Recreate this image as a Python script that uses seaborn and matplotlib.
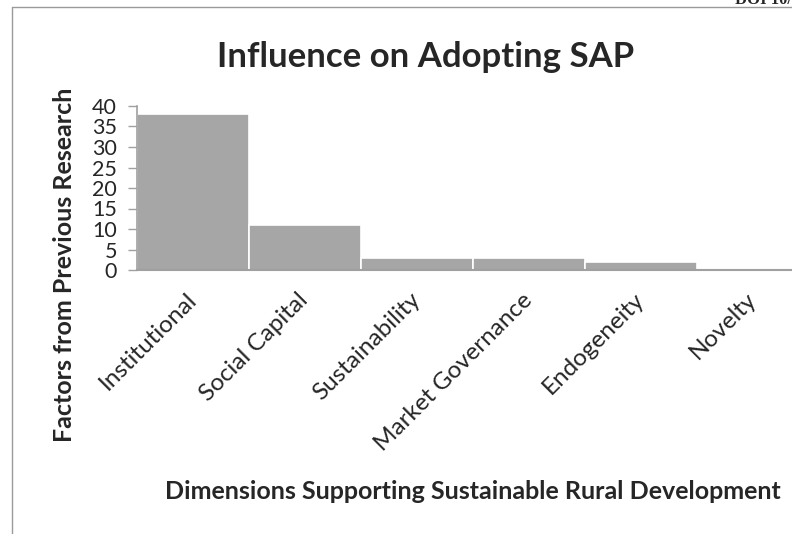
import matplotlib
matplotlib.use("Agg")
import matplotlib.pyplot as plt
import seaborn as sns
import pandas as pd
from matplotlib.lines import Line2D

# values
dimensions = ["Institutional", "Social Capital", "Sustainability",
              "Market Governance", "Endogeneity", "Novelty"]
factor_counts = [38, 11, 3, 3, 2, 0]
y_ticks = [0, 5, 10, 15, 20, 25, 30, 35, 40]

df = pd.DataFrame({"Dimension": dimensions, "Count": factor_counts})

sns.set_style("white")
plt.rcParams['font.family'] = ['Lato', 'DejaVu Sans']

fig = plt.figure(figsize=(7.92, 5.34), dpi=100)
W, H = 792, 534
# plot area runs past the right edge, as in the cropped original
ax = fig.add_axes([137 / W, 1 - 270 / H, 672 / W, 164 / H])

sns.barplot(data=df, x="Dimension", y="Count", color="#A6A6A6",
            width=1.0, edgecolor="white", linewidth=1.2, saturation=1, ax=ax)

ax.set_ylim(0, 40)
ax.set_xlim(-0.5, len(dimensions) - 0.5)
ax.set_yticks(y_ticks)
ax.set_yticklabels([str(t) for t in y_ticks], fontsize=15.5)
ax.tick_params(axis="y", direction="out", length=6.5, width=1, color="#A0A0A0",
               pad=8, left=True)
ax.tick_params(axis="x", length=0, pad=19)
for lab in ax.get_xticklabels():
    lab.set_rotation(45)
    lab.set_ha("right")
    lab.set_va("center")
    lab.set_rotation_mode("anchor")
    lab.set_fontsize(17.5)

for s in ["top", "right"]:
    ax.spines[s].set_visible(False)
ax.spines["left"].set_color("#A0A0A0")
ax.spines["bottom"].set_color("#A0A0A0")
ax.spines["left"].set_linewidth(1.2)
ax.spines["bottom"].set_linewidth(1.5)

ax.set_xlabel("")
ax.set_ylabel("")
fig.text(426 / W, 1 - 67 / H, "Influence on Adopting SAP", fontsize=25,
         fontweight="bold", ha="center", va="baseline")
fig.text(72 / W, 1 - 265 / H, "Factors from Previous Research", fontsize=18,
         fontweight="bold", rotation=90, rotation_mode="anchor",
         ha="center", va="baseline")
fig.text(473 / W, 1 - 499 / H, "Dimensions Supporting Sustainable Rural Development",
         fontsize=18, fontweight="bold", ha="center", va="baseline")

# page frame lines from the source document
fig.add_artist(Line2D([12 / W, 1], [1 - 7 / H, 1 - 7 / H], color="#9A9A9A", lw=1))
fig.add_artist(Line2D([12 / W, 12 / W], [0, 1 - 7 / H], color="#9A9A9A", lw=1))
fig.text(1.0, 1.0, "DOI 10/", fontsize=12, fontweight="bold",
         family=["Liberation Serif", "DejaVu Serif"], ha="right", va="center")

fig.savefig("out.png", dpi=100)
